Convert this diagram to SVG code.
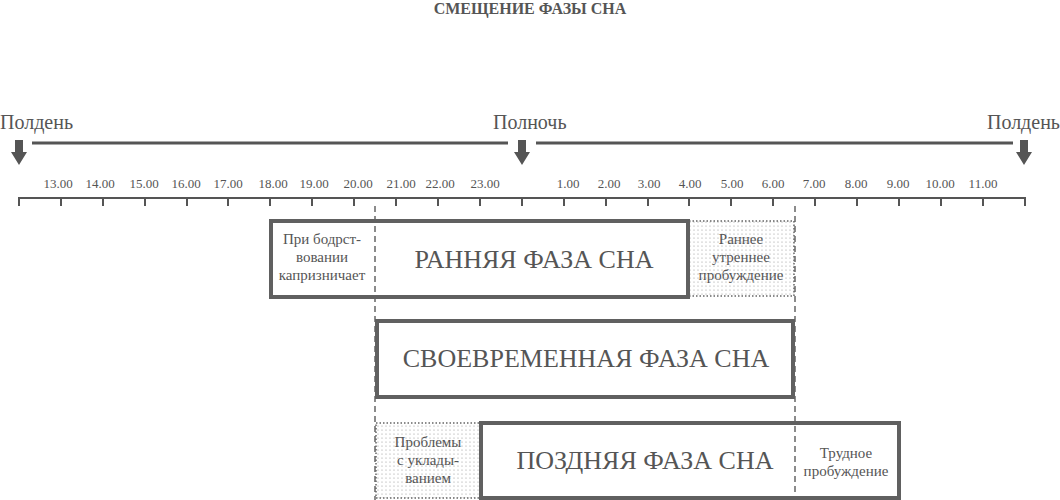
<svg xmlns="http://www.w3.org/2000/svg" width="1060" height="500" viewBox="0 0 1060 500">
<style>
text{font-family:"Liberation Serif","DejaVu Serif",serif;fill:#555}
.t{font-size:13px;text-anchor:middle}
.big{font-size:26px;text-anchor:middle}
.sm{font-size:15px;text-anchor:middle}
.thick{fill:none;stroke:#606060;stroke-width:4}
.dot{fill:url(#dots);stroke:#666;stroke-width:1.5;stroke-dasharray:1.5 2}
.ln{stroke:#555;stroke-width:3}
</style>
<defs>
<pattern id="dots" width="4" height="4" patternUnits="userSpaceOnUse"><rect width="4" height="4" fill="#fff"/><circle cx="2" cy="2" r="0.6" fill="#999"/></pattern>
<polygon id="arr" points="-4,0 4,0 4,12 8,12 0,25 -8,12 -4,12" fill="#555"/>
</defs>
<text x="530" y="14" style="font-size:16px;font-weight:bold;text-anchor:middle">СМЕЩЕНИЕ ФАЗЫ СНА</text>
<g id="header">
<text x="0" y="129" style="font-size:20px">Полдень</text>
<text x="493" y="129" style="font-size:20px">Полночь</text>
<text x="1060" y="129" style="font-size:20px;text-anchor:end">Полдень</text>
<line class="ln" x1="32" y1="143" x2="508" y2="143"/>
<line class="ln" x1="536" y1="143" x2="1013" y2="143"/>
<use href="#arr" x="19" y="140"/>
<use href="#arr" x="522" y="140"/>
<use href="#arr" x="1024" y="140"/>
</g>
<g id="axis" stroke="#555" stroke-width="2">
<line x1="19" y1="198" x2="1025" y2="198"/>
<path d="M19 197v9M61 197v9M103 197v9M145 197v9M187 197v9M228 197v9M270 197v9M312 197v9M354 197v9M396 197v9M438 197v9M480 197v9M522 197v9M564 197v9M606 197v9M648 197v9M689 197v9M731 197v9M773 197v9M815 197v9M857 197v9M899 197v9M941 197v9M983 197v9M1025 197v9"/>
</g>
<g id="labels">
<text class="t" x="58" y="188">13.00</text><text class="t" x="100" y="188">14.00</text><text class="t" x="144" y="188">15.00</text><text class="t" x="186" y="188">16.00</text><text class="t" x="228" y="188">17.00</text><text class="t" x="273" y="188">18.00</text><text class="t" x="314" y="188">19.00</text><text class="t" x="358" y="188">20.00</text><text class="t" x="401" y="188">21.00</text><text class="t" x="440" y="188">22.00</text><text class="t" x="485" y="188">23.00</text>
<text class="t" x="568" y="188">1.00</text><text class="t" x="609" y="188">2.00</text><text class="t" x="649" y="188">3.00</text><text class="t" x="690" y="188">4.00</text><text class="t" x="732" y="188">5.00</text><text class="t" x="773" y="188">6.00</text><text class="t" x="814" y="188">7.00</text><text class="t" x="856" y="188">8.00</text><text class="t" x="898" y="188">9.00</text><text class="t" x="940" y="188">10.00</text><text class="t" x="983" y="188">11.00</text>
</g>
<g id="connectors" stroke="#666" stroke-width="1.5" stroke-dasharray="6 4">
<line x1="375" y1="206" x2="375" y2="500"/>
<line x1="795" y1="206" x2="795" y2="500"/>
</g>
<g id="early">
<rect class="dot" x="689" y="221" width="105" height="75"/>
<rect class="thick" x="271" y="221" width="417" height="76"/>
<text class="sm" x="322" y="244">При бодрст-</text>
<text class="sm" x="322" y="262">вовании</text>
<text class="sm" x="322" y="280">капризничает</text>
<text class="big" x="534" y="268">РАННЯЯ ФАЗА СНА</text>
<text class="sm" x="741" y="244">Раннее</text>
<text class="sm" x="741" y="262">утреннее</text>
<text class="sm" x="741" y="280">пробуждение</text>
</g>
<g id="timely">
<rect class="thick" x="377" y="321" width="416" height="76"/>
<text class="big" x="586" y="367">СВОЕВРЕМЕННАЯ ФАЗА СНА</text>
</g>
<g id="late">
<rect class="dot" x="376" y="423" width="105" height="75"/>
<rect class="thick" x="481" y="423" width="418" height="75"/>
<text class="sm" x="428" y="447">Проблемы</text>
<text class="sm" x="428" y="465">с уклады-</text>
<text class="sm" x="428" y="483">ванием</text>
<text class="big" x="645" y="469">ПОЗДНЯЯ ФАЗА СНА</text>
<text class="sm" x="846" y="458">Трудное</text>
<text class="sm" x="846" y="476">пробуждение</text>
</g>
</svg>
